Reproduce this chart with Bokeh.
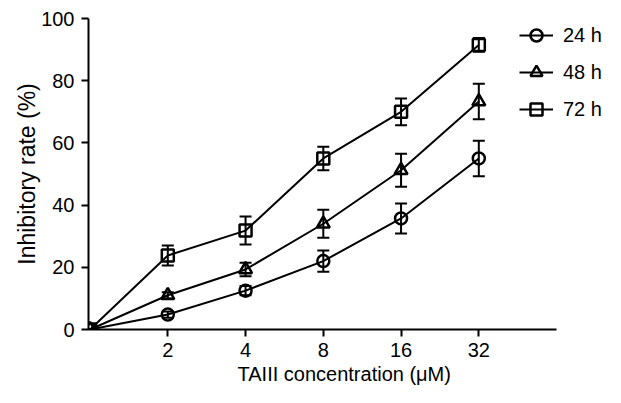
from bokeh.plotting import figure
from bokeh.models import (ColumnDataSource, Whisker, TeeHead, FixedTicker, Legend, LegendItem, Range1d)
from bokeh.embed import file_html
from bokeh.resources import INLINE
import numpy as np

conc_labels = ["0", "2", "4", "8", "16", "32"]
series_names = ["24 h", "48 h", "72 h"]
r24 = [0, 4.8, 12.5, 22.0, 35.7, 55.0]
e24 = [0, 1.0, 1.5, 3.4, 4.8, 5.7]
r48 = [0, 11.0, 19.3, 34.0, 51.2, 73.3]
e48 = [0, 1.0, 2.2, 4.5, 5.3, 5.7]
r72 = [0, 23.8, 31.8, 55.0, 70.0, 91.5]
e72 = [0, 3.2, 4.5, 3.8, 4.3, 2.2]
markers = ["circle", "triangle", "square"]
y_ticks = [0, 20, 40, 60, 80, 100]

FONT = "Liberation Sans"

W, H = 605, 387
BL, BT, BR = 88, 18, 0
FW = W - BL - BR
FH = 311
PXU = 77.75
p = figure(width=W, height=H, output_backend="svg", toolbar_location=None,
           x_range=Range1d(-0.02, -0.02 + FW / PXU), y_range=Range1d(0, 100),
           min_border_left=BL, min_border_right=BR, min_border_top=BT,
           min_border_bottom=H - BT - FH)
p.outline_line_color = None
p.grid.visible = False
p.background_fill_color = "white"

xs = np.arange(len(conc_labels))
items = []
for name, vals, errs, mk in zip(series_names, [r24, r48, r72], [e24, e48, e72], markers):
    v = np.array(vals, dtype=float)
    e = np.array(errs, dtype=float)
    src = ColumnDataSource(dict(x=xs, y=v, upper=v + e, lower=v - e))
    ln = p.line("x", "y", source=src, line_color="black", line_width=2)
    w = Whisker(source=src, base="x", upper="upper", lower="lower", line_color="black", line_width=2,
                upper_head=TeeHead(size=12, line_width=2, line_color="black"),
                lower_head=TeeHead(size=12, line_width=2, line_color="black"))
    p.add_layout(w)
    msize = 12 if mk != "triangle" else 13
    sc = p.scatter("x", "y", source=src, marker=mk, size=msize, fill_color=None,
                   line_color="black", line_width=2.5)
    items.append(LegendItem(label=name, renderers=[ln, sc]))

legend = Legend(items=items, location=(431, FH - 106), padding=0, margin=0, spacing=7,
                glyph_width=34, glyph_height=30, label_standoff=10,
                border_line_color=None, background_fill_alpha=0,
                label_text_font=FONT, label_text_font_size="20px", label_text_color="black")
p.add_layout(legend)

p.xaxis.ticker = FixedTicker(ticks=list(xs[1:]))
p.xaxis.major_label_overrides = {int(i): conc_labels[i] for i in xs}
p.xaxis.bounds = (-0.02, 6.0)
p.yaxis.ticker = FixedTicker(ticks=y_ticks)
p.xaxis.axis_label = "TAIII concentration  (\u03bcM)"
p.yaxis.axis_label = "Inhibitory rate (%)"
for ax in (p.xaxis, p.yaxis):
    ax.axis_line_width = 2
    ax.axis_line_color = "black"
    ax.major_tick_line_width = 2
    ax.major_tick_line_color = "black"
    ax.major_tick_in = 0
    ax.major_tick_out = 7
    ax.minor_tick_line_color = None
    ax.major_label_text_font = FONT
    ax.major_label_text_font_size = "20px"
    ax.major_label_text_color = "black"
    ax.axis_label_text_font = FONT
    ax.axis_label_text_font_style = "normal"
    ax.axis_label_text_color = "black"
p.xaxis.axis_label_text_font_size = "20px"
p.yaxis.axis_label_text_font_size = "23px"
p.xaxis.major_label_standoff = 6
p.yaxis.major_label_standoff = 7
p.xaxis.axis_label_standoff = 3
p.yaxis.axis_label_standoff = -2

open("out.html", "w").write(file_html(p, INLINE))
